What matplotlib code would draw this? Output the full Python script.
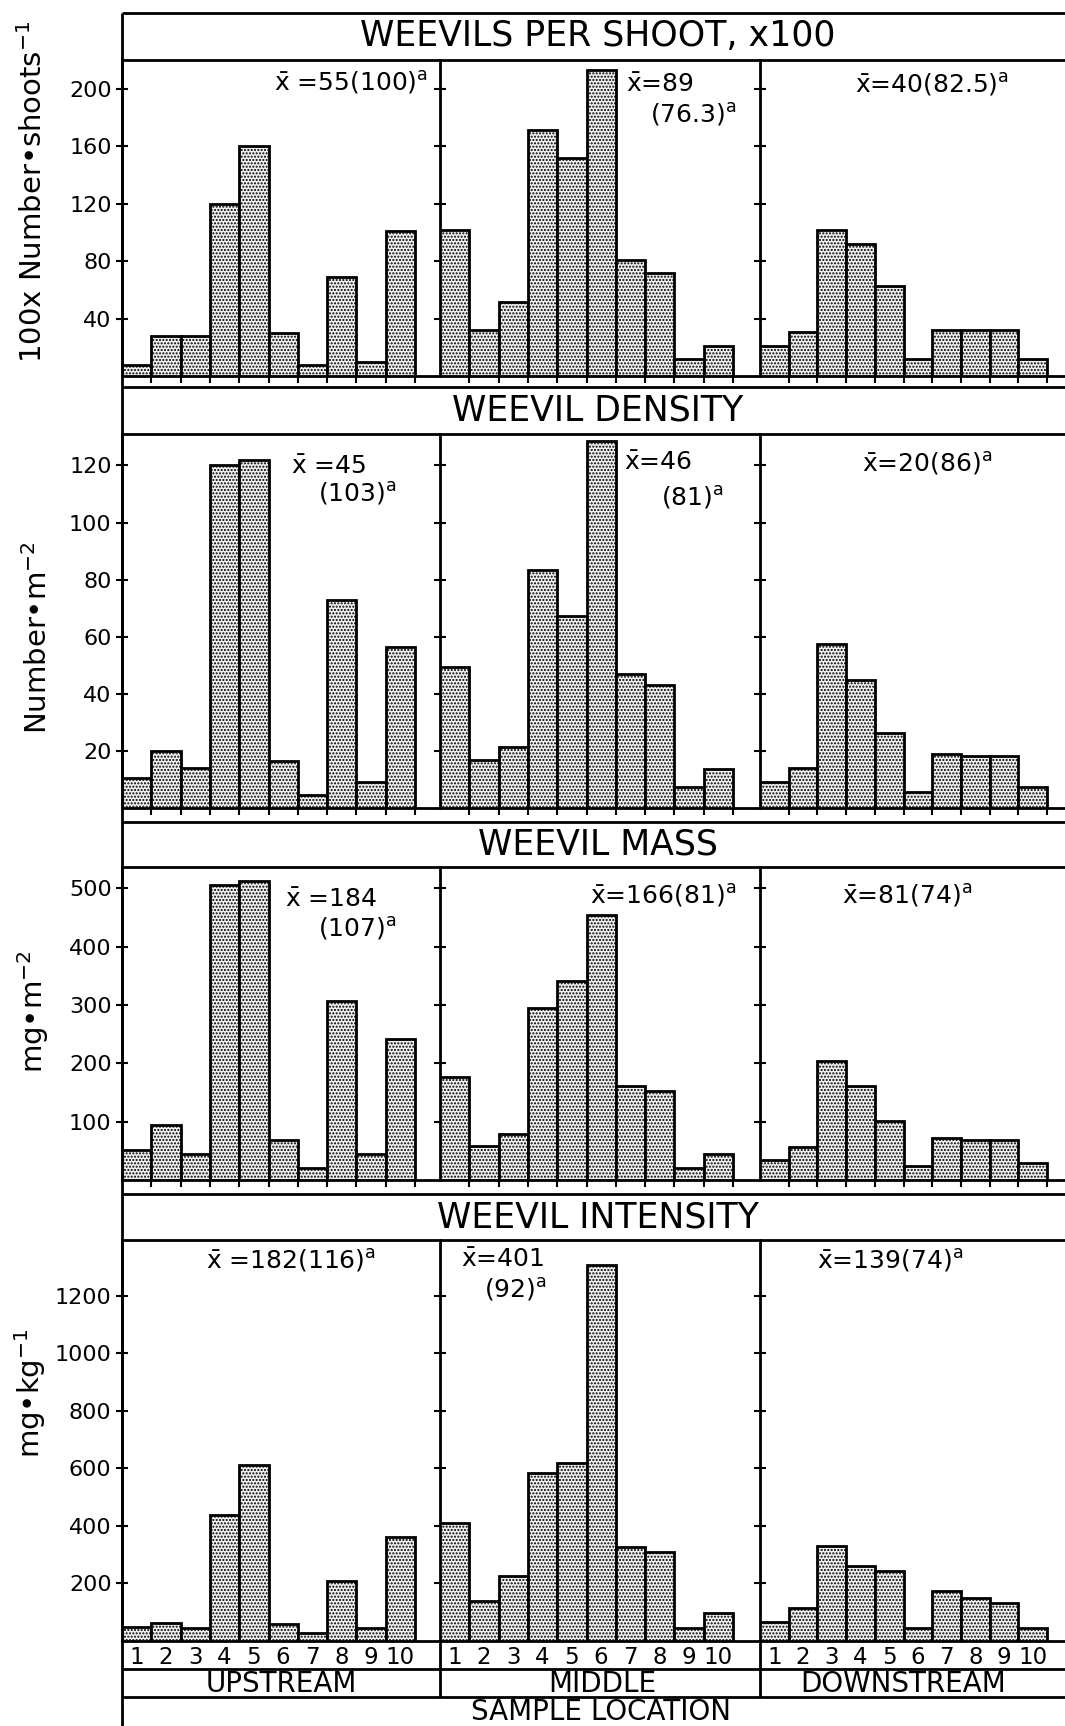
import matplotlib
matplotlib.use('Agg')
import matplotlib.pyplot as plt
from matplotlib.lines import Line2D
import numpy as np

plt.rcParams['font.family'] = ['DejaVu Sans']
plt.rcParams['mathtext.default'] = 'regular'
plt.rcParams['hatch.linewidth'] = 1.0

# ---------------- data ----------------
sites = ['1', '2', '3', '4', '5', '6', '7', '8', '9', '10']
regions = ['UPSTREAM', 'MIDDLE', 'DOWNSTREAM']

shoot_up = [8, 28, 28, 120, 160, 30, 8, 69, 10, 101]
shoot_mid = [102, 32, 52, 171, 152, 213, 81, 72, 12, 21]
shoot_down = [21, 31, 102, 92, 63, 12, 32, 32, 32, 12]

density_up = [10.5, 20, 14, 120, 122, 16.7, 4.7, 72.8, 9.4, 56.5]
density_mid = [49.5, 17, 21.4, 83.4, 67.3, 128.4, 47, 43.2, 7.6, 13.8]
density_down = [9.4, 14, 57.4, 45, 26.3, 5.7, 19, 18.2, 18.2, 7.4]

mass_up = [52, 94, 44, 505, 513, 69, 21, 307, 44, 241]
mass_mid = [176, 58, 78, 295, 341, 455, 161, 152, 21, 44]
mass_down = [34, 56, 204, 161, 101, 24, 72, 68, 68, 29]

intens_up = [46, 61, 44, 438, 611, 57, 26, 208, 45, 362]
intens_mid = [409, 136, 225, 582, 617, 1307, 325, 310, 43, 96]
intens_down = [64, 113, 330, 258, 241, 43, 171, 148, 131, 43]

titles = ['WEEVILS PER SHOOT, x100', 'WEEVIL DENSITY', 'WEEVIL MASS', 'WEEVIL INTENSITY']
ylabels = [r'100x Number•shoots$^{-1}$', r'Number•m$^{-2}$', r'mg•m$^{-2}$', r'mg•kg$^{-1}$']
yticks = [[40, 80, 120, 160, 200],
          [20, 40, 60, 80, 100, 120],
          [100, 200, 300, 400, 500],
          [200, 400, 600, 800, 1000, 1200]]
ytop = [220, 131, 537, 1395]

means = [
    [[r'$\bar{x}$ =55(100)$^{a}$'], [r'$\bar{x}$=89', r'(76.3)$^{a}$'], [r'$\bar{x}$=40(82.5)$^{a}$']],
    [[r'$\bar{x}$ =45', r'(103)$^{a}$'], [r'$\bar{x}$=46', r'(81)$^{a}$'], [r'$\bar{x}$=20(86)$^{a}$']],
    [[r'$\bar{x}$ =184', r'(107)$^{a}$'], [r'$\bar{x}$=166(81)$^{a}$'], [r'$\bar{x}$=81(74)$^{a}$']],
    [[r'$\bar{x}$ =182(116)$^{a}$'], [r'$\bar{x}$=401', r'(92)$^{a}$'], [r'$\bar{x}$=139(74)$^{a}$']],
]

rows = [[shoot_up, shoot_mid, shoot_down],
        [density_up, density_mid, density_down],
        [mass_up, mass_mid, mass_down],
        [intens_up, intens_mid, intens_down]]

# ---------------- layout (pixels) ----------------
W, H = 1065, 1726
fig = plt.figure(figsize=(W / 100, H / 100), dpi=100)

panel_x = [(122, 440, 29.3), (440, 760, 29.3), (760, 1065, 28.7)]
row_y = [(13, 60, 376.5), (387, 434, 808.5), (821.7, 866.7, 1180), (1194, 1240, 1640.5)]
mean_pos = [
    [[(274, 83)], [(626, 85), (650, 115)], [(855, 85)]],
    [[(291, 467), (318, 494)], [(624, 463), (661, 498)], [(862, 463)]],
    [[(285, 900), (318, 928)], [(590, 895)], [(842, 895)]],
    [[(206, 1260)], [(461, 1260), (484, 1289)], [(817, 1260)]],
]
ylabel_pos = [(33, 192), (38, 638), (33, 1012), (30, 1393)]

LW = 2.0


def fx(x):
    return x / W


def fy(y):
    return 1 - y / H


def hline(y, x0, x1, lw=LW):
    fig.add_artist(Line2D([fx(x0), fx(x1)], [fy(y), fy(y)], color='black', lw=lw,
                          transform=fig.transFigure, solid_capstyle='butt'))


def vline(x, y0, y1, lw=LW):
    fig.add_artist(Line2D([fx(x), fx(x)], [fy(y0), fy(y1)], color='black', lw=lw,
                          transform=fig.transFigure, solid_capstyle='butt'))


pos = np.arange(len(sites)) + 0.5

for r in range(4):
    box_top, top, bot = row_y[r]
    for p in range(3):
        x0, x1, bw = panel_x[p]
        ax = fig.add_axes([fx(x0), fy(bot), (x1 - x0) / W, (bot - top) / H])
        ax.bar(pos, rows[r][p], width=1.0, facecolor='#f0f0f0', edgecolor='black',
               hatch='.....', linewidth=2.0, zorder=3)
        ax.set_xlim(0, (x1 - x0) / bw)
        ax.set_ylim(0, ytop[r])
        for s in ['top', 'right']:
            ax.spines[s].set_visible(False)
        ax.spines['left'].set_linewidth(LW)
        ax.spines['bottom'].set_linewidth(LW)
        ax.set_yticks(yticks[r])
        ax.tick_params(axis='y', direction='inout', length=9, width=1.5)
        if p == 0:
            ax.set_yticklabels([str(v) for v in yticks[r]], fontsize=16)
            ax.tick_params(axis='y', pad=3)
        else:
            ax.set_yticklabels([])
        if r < 3:
            ax.set_xticks(np.arange(1, len(sites) + 1))
            ax.set_xticklabels([])
            ax.tick_params(axis='x', direction='out', length=5, width=1.5)
        else:
            ax.set_xticks(pos)
            ax.set_xticklabels(sites, fontsize=16.5)
            ax.tick_params(axis='x', length=0, pad=4)
        ax.patch.set_alpha(0)
        for (tx, ty), txt in zip(mean_pos[r][p], means[r][p]):
            fig.text(fx(tx), fy(ty), txt, fontsize=18, ha='left', va='center')

    # title box
    hline(box_top, 122, W)
    hline(top, 122, W)
    fig.text(fx((122 + W) / 2 + 4), fy((box_top + top) / 2), titles[r], fontsize=25,
             ha='center', va='center')
    lx, ly = ylabel_pos[r]
    fig.text(fx(lx), fy(ly), ylabels[r], fontsize=21, rotation=90,
             ha='center', va='center')

# outer frame left line
vline(122, 13, H)

# bottom label rows
hline(1669, 122, W)
hline(1697, 122, W)
vline(440, 1640.5, 1697)
vline(760, 1640.5, 1697)
region_x = [281, 602, 903]
for rx, name in zip(region_x, regions):
    fig.text(fx(rx), fy(1683.5), name, fontsize=20, ha='center', va='center')
fig.text(fx(601), fy(1712), 'SAMPLE LOCATION', fontsize=20, ha='center', va='center')

fig.savefig('out.png', dpi=100, facecolor='white')
